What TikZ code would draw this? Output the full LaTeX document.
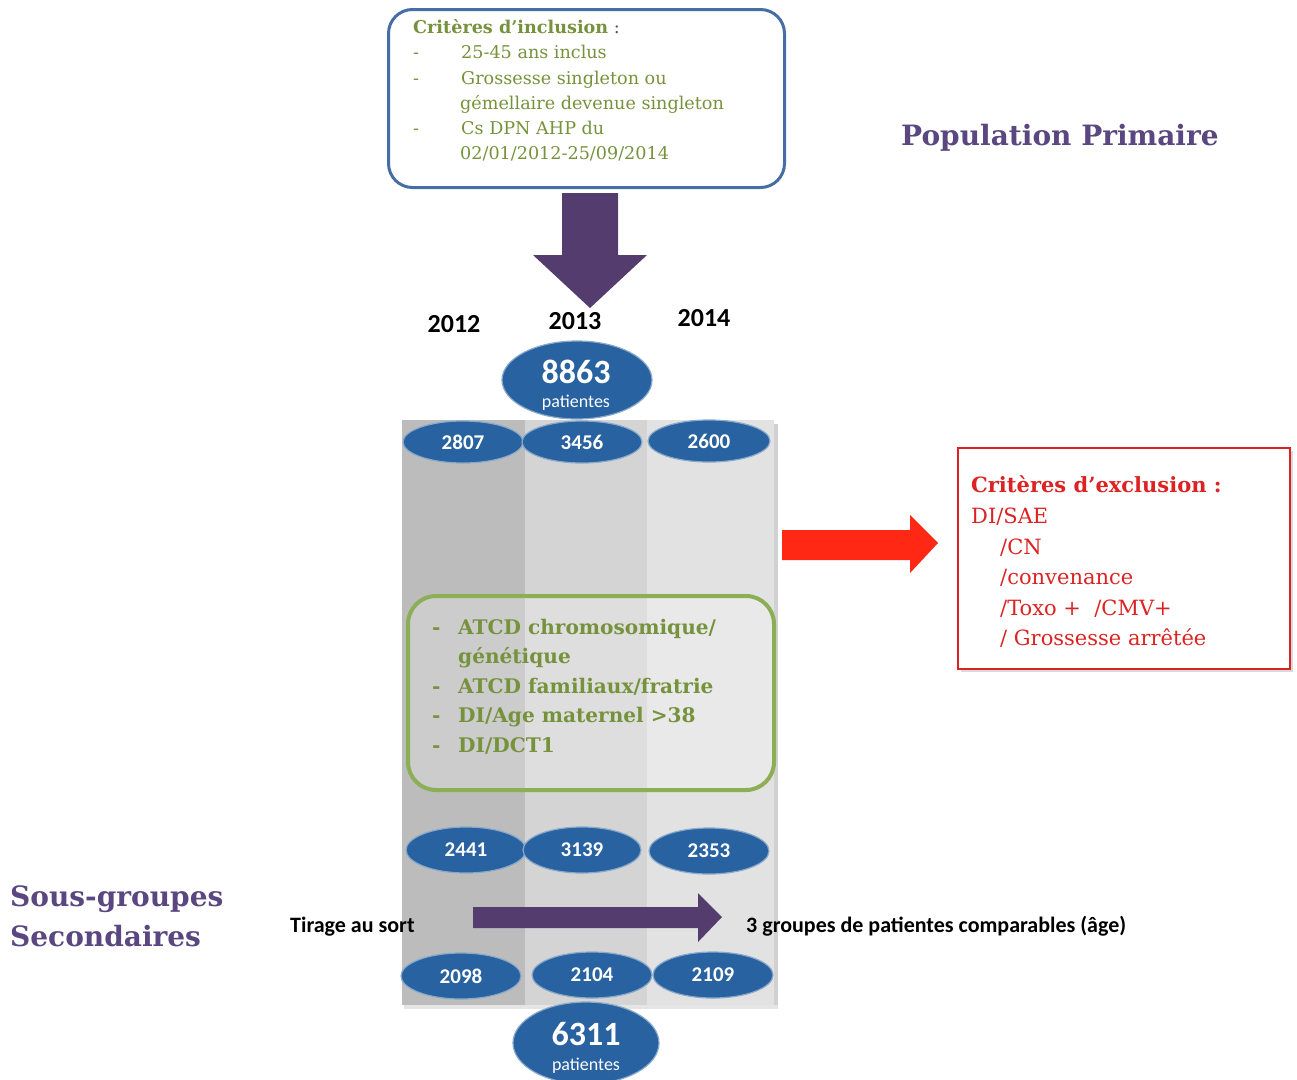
\documentclass[tikz,border=0pt]{standalone}
\usepackage{fontspec}
\setmainfont{DejaVu Serif}
\newfontfamily\calib{Carlito}
\usetikzlibrary{shapes.geometric}
\definecolor{incblue}{RGB}{70,110,165}
\definecolor{incgreen}{RGB}{118,146,60}
\definecolor{incdark}{RGB}{90,80,60}
\definecolor{boxgreen}{RGB}{140,175,85}
\definecolor{arrpurple}{RGB}{85,60,110}
\definecolor{titpurple}{RGB}{90,70,128}
\definecolor{ellblue}{RGB}{40,98,160}
\definecolor{exred}{RGB}{220,35,35}
\definecolor{arrred}{RGB}{255,40,20}
\definecolor{colA}{RGB}{188,188,188}
\definecolor{colB}{RGB}{212,212,212}
\definecolor{colC}{RGB}{226,226,226}
\tikzset{
  inc/.style={text=incgreen, inner sep=0, anchor=base west, font=\fontsize{17.6}{21}\selectfont},
  grn/.style={text=incgreen, inner sep=0, anchor=base west, font=\fontsize{20.1}{23}\selectfont\bfseries},
  exc/.style={text=exred, inner sep=0, anchor=base west, font=\fontsize{21}{25}\selectfont},
  tit/.style={text=titpurple, inner sep=0, anchor=base west, font=\fontsize{28}{32}\selectfont\bfseries},
  yr/.style={inner sep=0, anchor=base, font=\calib\fontsize{26}{30}\selectfont\bfseries},
  lbl/.style={inner sep=0, anchor=base west, font=\calib\fontsize{22}{26}\selectfont\bfseries},
  ell/.style={ellipse, fill=ellblue, draw=ellblue!55!white, line width=1.2pt, inner sep=0, text=white,
    font=\calib\fontsize{21}{24}\selectfont\bfseries},
  bigell/.style={ellipse, fill=ellblue, draw=ellblue!55!white, line width=1.2pt, inner sep=0},
  bignum/.style={inner sep=0, anchor=base, text=white, font=\calib\fontsize{34}{36}\selectfont\bfseries},
  bigsub/.style={inner sep=0, anchor=base, text=white, font=\calib\fontsize{18}{20}\selectfont},
}
\begin{document}
\begin{tikzpicture}[x=1pt,y=-1pt]
\useasboundingbox (0,0) rectangle (1297,1079);
% grey columns
\fill[black!18] (772,424) rectangle (778,1009);
\fill[black!10] (404,1005) rectangle (778,1009);
\fill[colA] (402,420) rectangle (525,1005);
\fill[colB] (525,420) rectangle (647,1005);
\fill[colC] (647,420) rectangle (774,1005);

% inclusion box
\node[draw=incblue, line width=3pt, rounded corners=24pt, fill=white,
      minimum width=396pt, minimum height=178pt, anchor=north west] (incbox) at (387,8) {};
\node[inc] (i0) at (413,33) {\textbf{Critères d’inclusion} {\color{incdark}:}};
\node[inc] (d1) at (413,58) {-};
\node[inc] (i1) at (461,58) {25-45 ans inclus};
\node[inc] (d2) at (413,84) {-};
\node[inc] (i2) at (461,84) {Grossesse singleton ou};
\node[inc] (i3) at (460,109) {gémellaire devenue singleton};
\node[inc] (d4) at (413,134) {-};
\node[inc] (i4) at (461,134) {Cs DPN AHP du};
\node[inc] (i5) at (460,159) {02/01/2012-25/09/2014};

% down arrow
\fill[arrpurple] (562,193) -- (618,193) -- (618,255) -- (647,255) -- (590,308) -- (533,255) -- (562,255) -- cycle;

% titles
\node[tit] (pp) at (901,145) {Population Primaire};
\node[tit] (sg1) at (10,906) {Sous-groupes};
\node[tit] (sg2) at (10,946) {Secondaires};

% years
\node[yr] (y12) at (454,332) {2012};
\node[yr] (y13) at (575,329) {2013};
\node[yr] (y14) at (704,326) {2014};

% big ellipse top
\node[bigell, minimum width=150pt, minimum height=78pt] (tot) at (577,380) {};
\node[bignum] (totn) at (576,383) {8863};
\node[bigsub] (tots) at (576,407) {patientes};

% row 1
\node[ell, minimum width=120pt, minimum height=42pt] (a1) at (463,442) {2807};
\node[ell, minimum width=120pt, minimum height=42pt] (a2) at (582,442) {3456};
\node[ell, minimum width=122pt, minimum height=42pt] (a3) at (709,441) {2600};

% green box
\node[draw=boxgreen, line width=4pt, rounded corners=28pt, fill=white, fill opacity=0.25,
      minimum width=366pt, minimum height=194pt, anchor=north west] (grbox) at (406,594) {};
\node[grn] (g0d) at (432,634) {-};
\node[grn] (g0) at (458,634) {ATCD chromosomique/};
\node[grn] (g1) at (458,663) {génétique};
\node[grn] (g2d) at (432,693) {-};
\node[grn] (g2) at (458,693) {ATCD familiaux/fratrie};
\node[grn] (g3d) at (432,722) {-};
\node[grn] (g3) at (458,722) {DI/Age maternel >38};
\node[grn] (g4d) at (432,752) {-};
\node[grn] (g4) at (458,752) {DI/DCT1};

% red arrow
\fill[arrred] (782,530) -- (910,530) -- (910,515) -- (938,543) -- (910,573) -- (910,560) -- (782,560) -- cycle;

% exclusion box
\fill[black!15] (961,451) rectangle (1293,672);
\node[draw=exred, line width=1.8pt, fill=white, minimum width=332pt, minimum height=221pt,
      anchor=north west] (exbox) at (957,447) {};
\node[exc] (e0) at (971,492) {\bfseries Critères d’exclusion :};
\node[exc] (e1) at (971,523) {DI/SAE};
\node[exc] (e2) at (1000,554) {/CN};
\node[exc] (e3) at (1000,584) {/convenance};
\node[exc] (e4) at (1000,615) {/Toxo +\ \ /CMV+};
\node[exc] (e5) at (1000,645) {/ Grossesse arrêtée};

% row 2
\node[ell, minimum width=120pt, minimum height=46pt] (b1) at (466,850) {2441};
\node[ell, minimum width=118pt, minimum height=46pt] (b2) at (582,850) {3139};
\node[ell, minimum width=120pt, minimum height=46pt] (b3) at (709,851) {2353};

% tirage
\node[lbl] (tir) at (290,932) {Tirage au sort};
\fill[arrpurple] (473,907) -- (698,907) -- (698,893) -- (722,917) -- (698,942) -- (698,928) -- (473,928) -- cycle;
\node[lbl] (grp) at (746,932) {3 groupes de patientes comparables (âge)};

% row 3
\node[ell, minimum width=120pt, minimum height=46pt] (c1) at (461,976) {2098};
\node[ell, minimum width=120pt, minimum height=46pt] (c2) at (592,975) {2104};
\node[ell, minimum width=120pt, minimum height=46pt] (c3) at (713,975) {2109};

% bottom ellipse
\node[bigell, minimum width=146pt, minimum height=82pt] (fin) at (586,1043) {};
\node[bignum] (finn) at (586,1045) {6311};
\node[bigsub] (fins) at (586,1070) {patientes};
\end{tikzpicture}
\end{document}
